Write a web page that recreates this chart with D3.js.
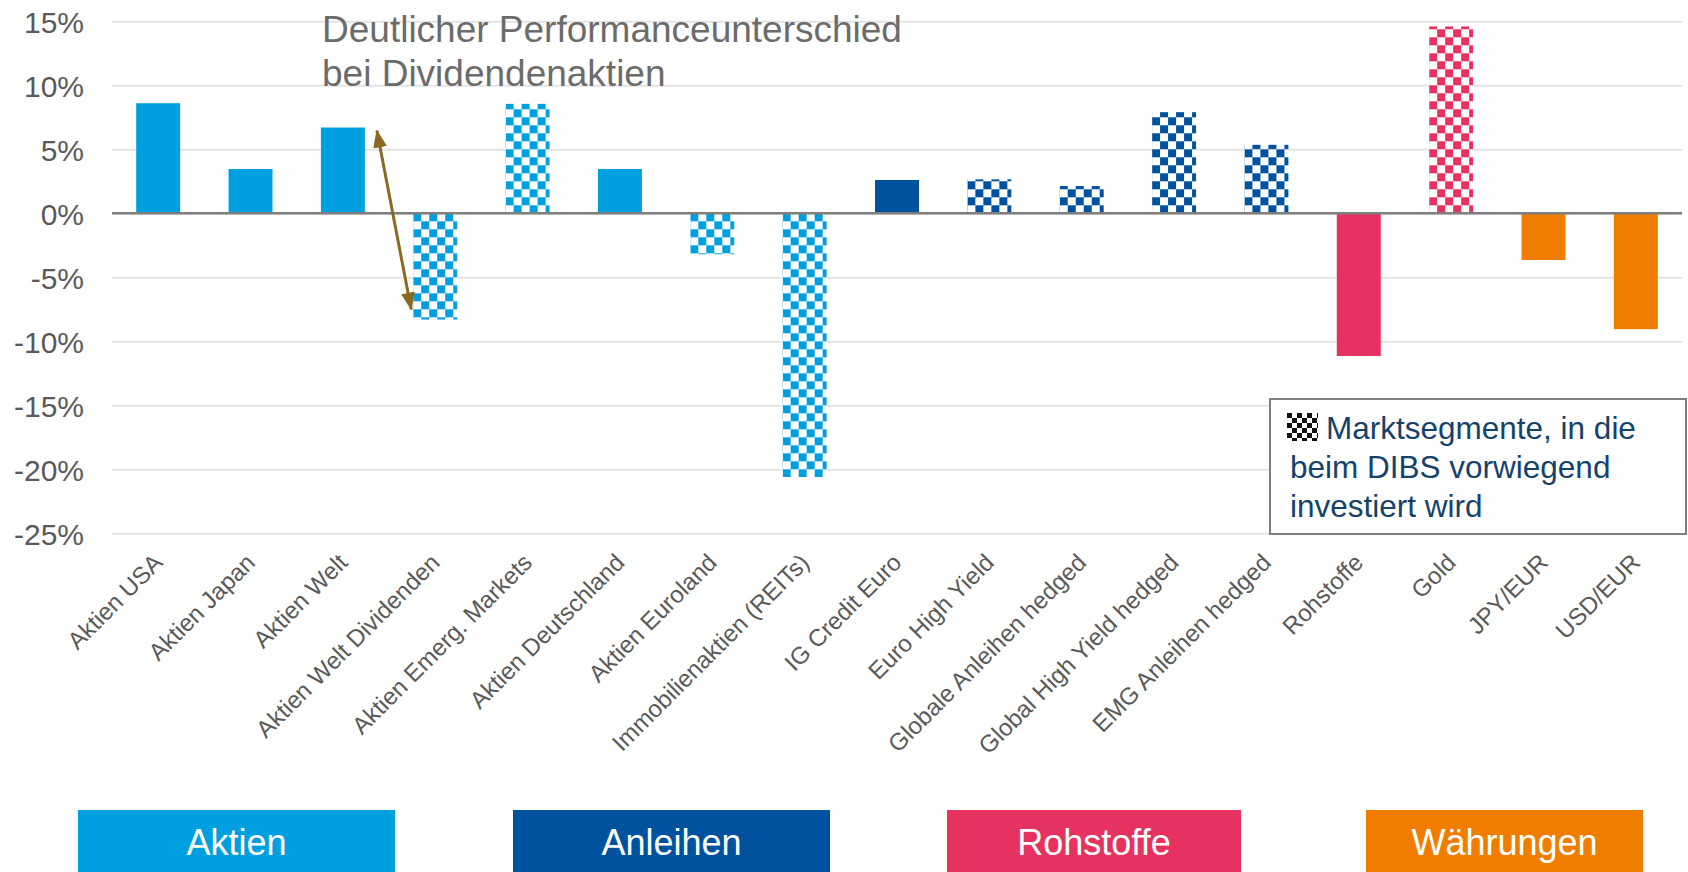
<!DOCTYPE html>
<html>
<head>
<meta charset="utf-8">
<script src="https://cdn.jsdelivr.net/npm/d3@7"></script>
<style>
  body { margin: 0; background: #fff; }
  text { font-family: "Liberation Sans", Arial, sans-serif; }
</style>
</head>
<body>
<script>
"use strict";

// data
var categories = ["Aktien USA", "Aktien Japan", "Aktien Welt", "Aktien Welt Dividenden", "Aktien Emerg. Markets",
    "Aktien Deutschland", "Aktien Euroland", "Immobilienaktien (REITs)", "IG Credit Euro", "Euro High Yield",
    "Globale Anleihen hedged", "Global High Yield hedged", "EMG Anleihen hedged", "Rohstoffe", "Gold", "JPY/EUR", "USD/EUR"];
var values = [8.6, 3.46, 6.7, -8.3, 8.55, 3.46, -3.2, -20.6, 2.6, 2.65, 2.13, 7.9, 5.35, -11.15, 14.6, -3.65, -9.05];
var groupOf = ["Aktien", "Aktien", "Aktien", "Aktien", "Aktien", "Aktien", "Aktien", "Aktien",
    "Anleihen", "Anleihen", "Anleihen", "Anleihen", "Anleihen", "Rohstoffe", "Rohstoffe", "Währungen", "Währungen"];
var dibs = [false, false, false, true, true, false, true, true, false, true, true, true, true, false, true, false, false];
var groups = ["Aktien", "Anleihen", "Rohstoffe", "Währungen"];
var groupColors = ["#009fdf", "#00519e", "#e63260", "#f07d00"];
var yTicks = [15, 10, 5, 0, -5, -10, -15, -20, -25];
var noteLines = ["Deutlicher Performanceunterschied", "bei Dividendenaktien"];
var boxLines = ["Marktsegmente, in die", "beim DIBS vorwiegend", "investiert wird"];

var W = 1688, H = 872;
var plotLeft = 112, plotRight = 1682, plotTop = 21.3, plotBottom = 533.3;

function checker(defs, id, col, cell, px, py){
    var p = defs.append("pattern").attr("id", id)
        .attr("patternUnits", "userSpaceOnUse").attr("x", px).attr("y", py)
        .attr("width", cell * 2).attr("height", cell * 2);
    p.append("rect").attr("width", cell * 2).attr("height", cell * 2).attr("fill", "#fff");
    p.append("rect").attr("width", cell).attr("height", cell).attr("fill", col);
    p.append("rect").attr("x", cell).attr("y", cell).attr("width", cell).attr("height", cell).attr("fill", col);
}

function makeChart(){
    var svg = d3.select("body").append("svg").attr("width", W).attr("height", H);
    var defs = svg.append("defs");

    var color = d3.scaleOrdinal().domain(groups).range(groupColors);
    var x = d3.scaleBand().domain(categories).range([plotLeft, plotRight]).paddingInner(0.524).paddingOuter(0.262);
    var y = d3.scaleLinear().domain([-25, 15]).range([plotBottom, plotTop]);

    // y axis + grid
    var yAxis = svg.append("g").attr("transform", "translate(" + plotLeft + ",0)")
        .call(d3.axisLeft(y).tickValues(yTicks).tickSize(-(plotRight - plotLeft)).tickPadding(28)
            .tickFormat(function(d){ return d + "%"; }));
    yAxis.select(".domain").remove();
    yAxis.selectAll(".tick line").attr("stroke", "#e3e3e3").attr("stroke-width", 2);
    yAxis.selectAll(".tick text").attr("fill", "#595959").style("font-size", "30px")
        .style("font-family", "'Liberation Sans', Arial, sans-serif").attr("dy", "0.36em");

    // checker pattern per bar, lined up with the bar's corner on the zero line
    categories.forEach(function(c, i){
        if (dibs[i]) checker(defs, "chk" + i, color(groupOf[i]), 8, x(c), y(0));
    });
    checker(defs, "chkBlack", "#111", 5, 1287, 413);

    // bars
    svg.append("g").selectAll("rect").data(categories).enter().append("rect")
        .attr("x", function(d){ return x(d); })
        .attr("width", x.bandwidth())
        .attr("y", function(d, i){ return y(Math.max(0, values[i])); })
        .attr("height", function(d, i){ return Math.abs(y(values[i]) - y(0)); })
        .attr("fill", function(d, i){ return dibs[i] ? "url(#chk" + i + ")" : color(groupOf[i]); });

    // zero line
    svg.append("line").attr("x1", plotLeft).attr("x2", plotRight).attr("y1", y(0)).attr("y2", y(0))
        .attr("stroke", "#7f7f7f").attr("stroke-width", 2.5);

    // x labels, rotated
    svg.append("g").selectAll("text").data(categories).enter().append("text")
        .attr("transform", function(d){
            return "translate(" + (x(d) + x.bandwidth() / 2 + 6) + ",564) rotate(-45)";
        })
        .attr("text-anchor", "end").attr("fill", "#595959").style("font-size", "24px")
        .text(function(d){ return d; });

    // annotation text + arrow
    svg.append("g").selectAll("text").data(noteLines).enter().append("text")
        .attr("x", 322).attr("y", function(d, i){ return 41.7 + i * 44.3; })
        .attr("fill", "#6b6b6b").style("font-size", "37px").text(function(d){ return d; });

    defs.append("marker").attr("id", "arr").attr("viewBox", "0 0 18 14")
        .attr("refX", 17).attr("refY", 7).attr("markerWidth", 18).attr("markerHeight", 14)
        .attr("markerUnits", "userSpaceOnUse").attr("orient", "auto-start-reverse")
        .append("path").attr("d", "M0,0 L18,7 L0,14 Z").attr("fill", "#8c6923");
    var i1 = categories.indexOf("Aktien Welt"), i2 = categories.indexOf("Aktien Welt Dividenden");
    svg.append("line")
        .attr("x1", x(categories[i1]) + x.bandwidth() + 12).attr("y1", y(values[i1]) + 3)
        .attr("x2", x(categories[i2]) - 2).attr("y2", y(values[i2]) - 10)
        .attr("stroke", "#8c6923").attr("stroke-width", 3)
        .attr("marker-start", "url(#arr)").attr("marker-end", "url(#arr)");

    // DIBS note box
    var box = svg.append("g");
    box.append("rect").attr("x", 1270).attr("y", 399).attr("width", 416).attr("height", 135)
        .attr("fill", "#fff").attr("stroke", "#7f7f7f").attr("stroke-width", 2);
    box.append("rect").attr("x", 1287).attr("y", 413).attr("width", 31).attr("height", 28)
        .attr("fill", "url(#chkBlack)");
    box.selectAll("text").data(boxLines).enter().append("text")
        .attr("x", function(d, i){ return i === 0 ? 1326 : 1290; })
        .attr("y", function(d, i){ return 439 + i * 39; })
        .attr("fill", "#14426b").style("font-size", "31.5px").text(function(d){ return d; });

    // group legend at the bottom
    var legendX = [78, 513, 947, 1366], legendW = [317, 317, 294, 277];
    var leg = svg.append("g").selectAll("g").data(groups).enter().append("g");
    leg.append("rect").attr("x", function(d, i){ return legendX[i]; }).attr("y", 810)
        .attr("width", function(d, i){ return legendW[i]; }).attr("height", 70)
        .attr("fill", function(d){ return color(d); });
    leg.append("text").attr("x", function(d, i){ return legendX[i] + legendW[i] / 2; }).attr("y", 855)
        .attr("text-anchor", "middle").attr("fill", "#fff").style("font-size", "36px")
        .text(function(d){ return d; });
}

makeChart();
</script>
</body>
</html>
